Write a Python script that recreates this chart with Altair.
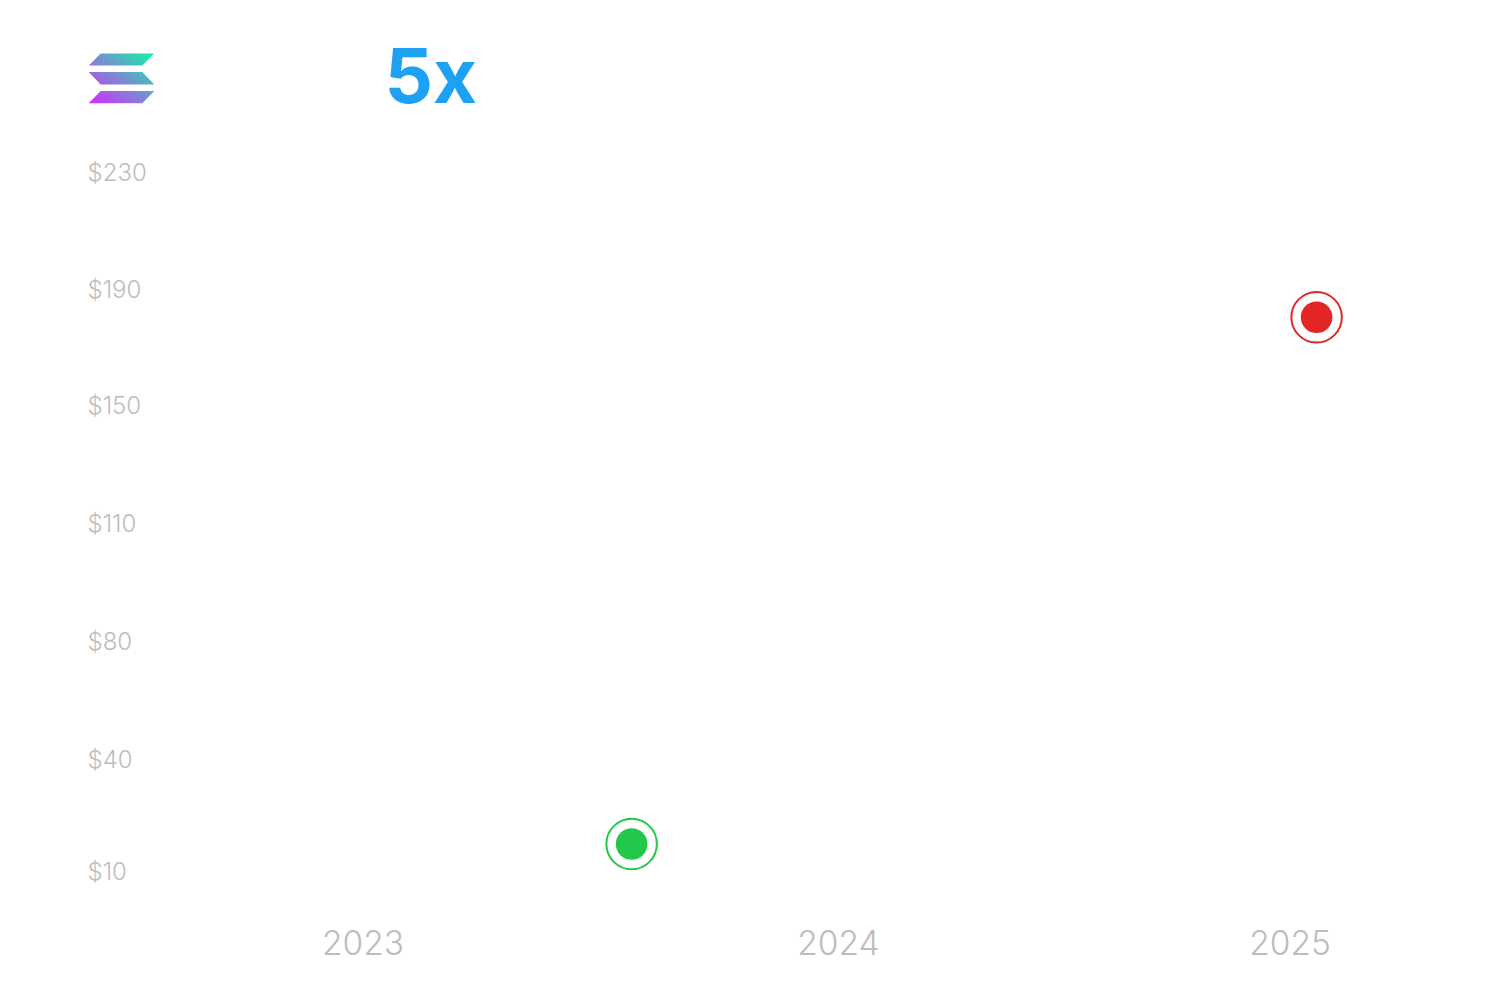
import altair as alt
import pandas as pd

# Data
y_ticks = [10, 40, 80, 110, 150, 190, 230]
y_pos = [852, 740, 622, 504, 386, 270, 153]
x_ticks = [2023, 2024, 2025]
x_pos = [212.5, 688, 1139.5]
point_x = [2023.566, 2025.060]
point_y = [17.5, 180.6]
point_c = ["#22C84A", "#E22626"]

df = pd.DataFrame({"x": point_x, "y": point_y, "c": point_c})

x_enc = alt.X("x:Q", scale=alt.Scale(domain=x_ticks, range=x_pos, nice=False, zero=False),
              axis=alt.Axis(values=x_ticks, labelExpr="datum.value + ''", title=None, grid=False, domain=False, ticks=False,
                            labelFont="Inter", labelFontSize=33.5, labelFontWeight=300, labelColor="#BDBDBD",
                            labelPadding=28, labelFlush=False))
y_enc = alt.Y("y:Q", scale=alt.Scale(domain=y_ticks, range=y_pos, nice=False, zero=False),
              axis=alt.Axis(values=y_ticks, labelExpr="'$' + datum.value", title=None, grid=False, domain=False, ticks=False,
                            labelFont="Inter", labelFontSize=24, labelFontWeight=300, labelColor="#BDBDBD",
                            labelAlign="left", labelPadding=63))
color = alt.Color("c:N", scale=None, legend=None)

inner = alt.Chart(df).mark_circle(size=1000, opacity=1).encode(x=x_enc, y=y_enc, color=color)
ring = alt.Chart(df).mark_point(size=2550, opacity=1, filled=False, strokeWidth=2).encode(x=x_enc, y=y_enc, color=color)

blank = alt.Data(values=[{"k": 1}])
gradient = alt.LinearGradient(
    gradient="linear", x1=0, y1=1, x2=1, y2=0,
    stops=[alt.GradientStop(offset=0, color="#D32CF8"),
           alt.GradientStop(offset=0.5, color="#7A8CD2"),
           alt.GradientStop(offset=1, color="#10F5A6")],
)
logo_path = ("M-0.636,-0.763L1,-0.763L0.636,-0.394L-1,-0.394Z"
             "M-1,-0.197L0.636,-0.197L1,0.182L-0.636,0.182Z"
             "M-0.636,0.379L1,0.379L0.636,0.758L-1,0.758Z")
logo = alt.Chart(blank).mark_point(shape=logo_path, size=4290, filled=True, fill=gradient, opacity=1, strokeWidth=0).encode(
    x=alt.value(-28.5), y=alt.value(58.5))
title = alt.Chart(blank).mark_text(text="5x", font="Inter", fontSize=76, fontWeight=700, color="#1DA1F2",
                                   align="left", baseline="alphabetic").encode(
    x=alt.value(234.5), y=alt.value(83))

chart = alt.layer(ring, inner, logo, title).properties(
    width=1300, height=880,
    padding={"left": 142, "top": 12, "right": 30, "bottom": 72},
    autosize=alt.AutoSizeParams(type="none"),
).configure_view(stroke=None)

chart.save("out.html", embed_options={"renderer": "svg", "actions": False})
